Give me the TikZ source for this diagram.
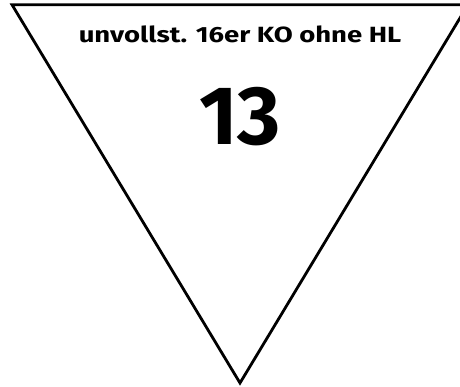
\documentclass[tikz,border=0pt]{standalone}
\usepackage{fontspec}
\setmainfont{Fira Sans}
\newfontfamily\titlefont[FakeStretch=1.25]{Fira Sans}
\begin{document}
\begin{tikzpicture}[x=1pt,y=-1pt,
  edge/.style={line width=2.8pt,line join=miter},
  title/.style={font=\titlefont\fontsize{22}{24}\selectfont\bfseries,inner sep=0pt,anchor=base},
  bignum/.style={font=\fontsize{83}{90}\selectfont\bfseries,inner sep=0pt,anchor=base}]
\clip (0,0) rectangle (460,387);
\coordinate (tl) at (12,4.7);
\coordinate (tr) at (468,4.7);
\coordinate (ap) at (240,383);
\draw[edge] (tl) -- (tr) -- (ap) -- cycle;
\node[title] (t) at (240,43) {unvollst. 16er KO ohne HL};
\node[bignum] (n) at (240,145) {13};
\end{tikzpicture}
\end{document}
